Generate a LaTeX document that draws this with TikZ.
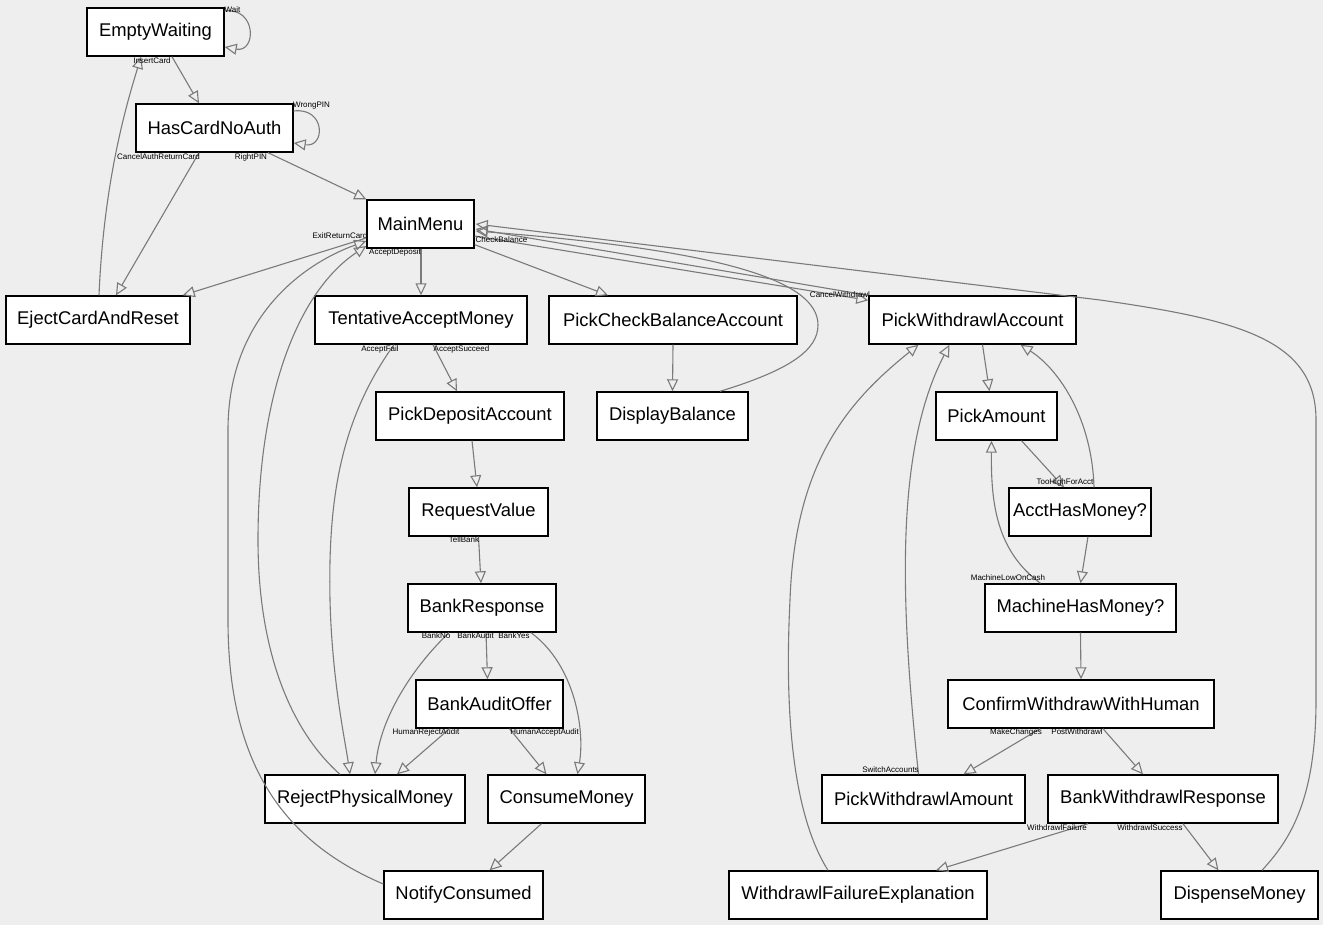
\documentclass[tikz,border=0pt]{standalone}
\usepackage{fontspec}
\setmainfont{Liberation Sans}
\usetikzlibrary{arrows.meta,calc}
\definecolor{bgcol}{HTML}{EEEEEE}
\definecolor{edgecol}{HTML}{7A7A7A}
\begin{document}
\begin{tikzpicture}[x=0.5pt,y=-0.5pt,
    state/.style={draw=black, fill=white, line width=0.7pt, inner sep=0pt, minimum height=24pt, font=\fontsize{9.2}{11}\selectfont},
    tr/.style={draw=edgecol, line width=0.55pt, -{Triangle[open,length=6pt,width=5.5pt]}},
    lbl/.style={inner sep=0pt, font=\fontsize{4}{4.5}\selectfont}]
    \fill[bgcol] (0,0) rectangle (1323,925);
    \useasboundingbox (0,0) rectangle (1323,925);
    \node[state, minimum width=68.5pt] (EmptyWaiting) at (155.5,32) {EmptyWaiting};
    \node[state, minimum width=78.5pt] (HasCardNoAuth) at (214.5,128) {HasCardNoAuth};
    \node[state, minimum width=53.5pt] (MainMenu) at (420.5,224) {MainMenu};
    \node[state, minimum width=92pt] (EjectCardAndReset) at (98,320) {EjectCardAndReset};
    \node[state, minimum width=106pt] (TentativeAcceptMoney) at (421,320) {TentativeAcceptMoney};
    \node[state, minimum width=124pt] (PickCheckBalanceAccount) at (673,320) {PickCheckBalanceAccount};
    \node[state, minimum width=103.5pt] (PickWithdrawlAccount) at (972.5,320) {PickWithdrawlAccount};
    \node[state, minimum width=94pt] (PickDepositAccount) at (470,416) {PickDepositAccount};
    \node[state, minimum width=75.5pt] (DisplayBalance) at (672.5,416) {DisplayBalance};
    \node[state, minimum width=60.5pt] (PickAmount) at (996.5,416) {PickAmount};
    \node[state, minimum width=69.5pt] (RequestValue) at (478.5,512) {RequestValue};
    \node[state, minimum width=71pt] (AcctHasMoney) at (1080,512) {AcctHasMoney?};
    \node[state, minimum width=74pt] (BankResponse) at (482,608) {BankResponse};
    \node[state, minimum width=95.5pt] (MachineHasMoney) at (1080.5,608) {MachineHasMoney?};
    \node[state, minimum width=73.5pt] (BankAuditOffer) at (489.5,704) {BankAuditOffer};
    \node[state, minimum width=133pt] (ConfirmWithdrawWithHuman) at (1081,704) {ConfirmWithdrawWithHuman};
    \node[state, minimum width=100pt] (RejectPhysicalMoney) at (365,799) {RejectPhysicalMoney};
    \node[state, minimum width=78.5pt] (ConsumeMoney) at (566.5,799) {ConsumeMoney};
    \node[state, minimum width=101.5pt] (PickWithdrawlAmount) at (923.5,799) {PickWithdrawlAmount};
    \node[state, minimum width=115pt] (BankWithdrawlResponse) at (1163,799) {BankWithdrawlResponse};
    \node[state, minimum width=79.5pt] (NotifyConsumed) at (463.5,895) {NotifyConsumed};
    \node[state, minimum width=129pt] (WithdrawlFailureExplanation) at (858,895) {WithdrawlFailureExplanation};
    \node[state, minimum width=78.5pt] (DispenseMoney) at (1239.5,895) {DispenseMoney};

    \draw[tr] ($(EmptyWaiting.east)+(0,-21)$) .. controls +(32,-4) and +(32,6) .. ($(EmptyWaiting.east)+(0,15)$);
    \draw[tr] ($(EmptyWaiting.south)+(16.5,0)$) -- ($(HasCardNoAuth.north)+(-15.5,0)$);
    \draw[tr] ($(HasCardNoAuth.east)+(0,-17)$) .. controls +(32,-4) and +(32,5) .. ($(HasCardNoAuth.east)+(0,15)$);
    \draw[tr] ($(HasCardNoAuth.south)+(53.5,0)$) -- (MainMenu.north west);
    \draw[tr] ($(HasCardNoAuth.south)+(-15.5,0)$) -- ($(EjectCardAndReset.north)+(18,0)$);
    \draw[tr] ($(EjectCardAndReset.north)+(1,0)$) .. controls +(5,-120) and +(-12,40) .. ($(EmptyWaiting.south)+(-14.5,0)$);
    \draw[tr] ($(MainMenu.west)+(0,14)$) -- ($(EjectCardAndReset.north east)+(-8,0)$);
    \draw[tr] ($(MainMenu.south)+(0.5,0)$) -- (TentativeAcceptMoney.north);
    \draw[tr] ($(MainMenu.south east)+(0,-4)$) -- ($(PickCheckBalanceAccount.north)+(-65,0)$);
    \draw[tr] ($(MainMenu.east)+(0,12)$) -- ($(PickWithdrawlAccount.north west)+(0,5)$);
    \draw[tr] (PickWithdrawlAccount.north west) -- ($(MainMenu.east)+(1,5)$);
    \draw[tr] ($(DisplayBalance.north)+(47.5,0)$) .. controls (790,370) and (818,350) .. (818,325) .. controls (818,280) and (720,250) .. ($(MainMenu.east)+(1,7)$);
    \draw[tr] ($(DispenseMoney.north)+(22.5,0)$) .. controls (1290,840) and (1316,800) .. (1316,700) -- (1316,420) .. controls (1316,340) and (1240,320) .. (1100,300) -- ($(MainMenu.east)+(1,0)$);
    \draw[tr] ($(NotifyConsumed.west)+(0,-11)$) .. controls (280,840) and (228,760) .. (228,620) -- (228,430) .. controls (228,320) and (300,265) .. ($(MainMenu.west)+(0,17)$);
    \draw[tr] ($(RejectPhysicalMoney.north)+(-25,0)$) .. controls (290,730) and (258,650) .. (258,540) .. controls (258,390) and (300,290) .. ($(MainMenu.west)+(0,22)$);
    \draw[tr] ($(TentativeAcceptMoney.south)+(-27,0)$) .. controls (340,420) and (328,500) .. (330,600) .. controls (332,680) and (345,740) .. ($(RejectPhysicalMoney.north)+(-15,0)$);
    \draw[tr] ($(TentativeAcceptMoney.south)+(12,0)$) -- ($(PickDepositAccount.north)+(-13,0)$);
    \draw[tr] ($(PickDepositAccount.south)+(2,0)$) -- ($(RequestValue.north)+(-1.5,0)$);
    \draw[tr] (RequestValue.south) -- ($(BankResponse.north)+(-1,0)$);
    \draw[tr] ($(BankResponse.south)+(-33,0)$) .. controls (410,670) and (380,720) .. ($(RejectPhysicalMoney.north)+(10,0)$);
    \draw[tr] ($(BankResponse.south)+(4,0)$) -- ($(BankAuditOffer.north)+(-2,0)$);
    \draw[tr] ($(BankResponse.south)+(49,0)$) .. controls (575,665) and (585,730) .. ($(ConsumeMoney.north)+(11,0)$);
    \draw[tr] ($(BankAuditOffer.south)+(-40,0)$) -- ($(RejectPhysicalMoney.north)+(32,0)$);
    \draw[tr] ($(BankAuditOffer.south)+(20,0)$) -- ($(ConsumeMoney.north)+(-20,0)$);
    \draw[tr] ($(ConsumeMoney.south)+(-25,0)$) -- ($(NotifyConsumed.north)+(26,0)$);
    \draw[tr] (PickCheckBalanceAccount.south) -- (DisplayBalance.north);
    \draw[tr] ($(PickWithdrawlAccount.south)+(10,0)$) -- ($(PickAmount.north)+(-7,0)$);
    \draw[tr] ($(PickAmount.south)+(25,0)$) -- ($(AcctHasMoney.north)+(-16,0)$);
    \draw[tr] ($(AcctHasMoney.north)+(14,0)$) .. controls (1092,420) and (1060,370) .. ($(PickWithdrawlAccount.south)+(48,0)$);
    \draw[tr] ($(AcctHasMoney.south)+(8,0)$) -- (MachineHasMoney.north);
    \draw[tr] ($(MachineHasMoney.north)+(-40,0)$) .. controls (995,550) and (991,500) .. ($(PickAmount.south)+(-5,0)$);
    \draw[tr] (MachineHasMoney.south) -- (ConfirmWithdrawWithHuman.north);
    \draw[tr] ($(ConfirmWithdrawWithHuman.south)+(-41,0)$) -- ($(PickWithdrawlAmount.north)+(40,0)$);
    \draw[tr] ($(ConfirmWithdrawWithHuman.south)+(22,0)$) -- ($(BankWithdrawlResponse.north)+(-20,0)$);
    \draw[tr] ($(PickWithdrawlAmount.north)+(-5,0)$) .. controls (900,600) and (895,450) .. ($(PickWithdrawlAccount.south)+(-23,0)$);
    \draw[tr] ($(BankWithdrawlResponse.south)+(-75,0)$) -- ($(WithdrawlFailureExplanation.north)+(78,0)$);
    \draw[tr] ($(BankWithdrawlResponse.south)+(20,0)$) -- ($(DispenseMoney.north)+(-21,0)$);
    \draw[tr] ($(WithdrawlFailureExplanation.north)+(-30,0)$) .. controls (790,810) and (785,700) .. (790,600) .. controls (795,460) and (850,400) .. ($(PickWithdrawlAccount.south)+(-54,0)$);

    \node[lbl] (lWait) at (232.5,10) {Wait};
    \node[lbl] (lInsertCard) at (152,61) {InsertCard};
    \node[lbl] (lWrongPIN) at (311.5,106) {WrongPIN};
    \node[lbl] (lCancelAuth) at (158.5,157) {CancelAuthReturnCard};
    \node[lbl] (lRightPIN) at (251,157) {RightPIN};
    \node[lbl] (lExit) at (340,235.5) {ExitReturnCard};
    \node[lbl] (lAcceptDeposit) at (395,252) {AcceptDeposit};
    \node[lbl] (lCheckBalance) at (501.5,239.5) {CheckBalance};
    \node[lbl] (lCancelWithdrawl) at (840,294.5) {CancelWithdrawl};
    \node[lbl] (lAcceptFail) at (380,349) {AcceptFail};
    \node[lbl] (lAcceptSucceed) at (461.5,349) {AcceptSucceed};
    \node[lbl] (lTellBank) at (464,540) {TellBank};
    \node[lbl] (lBankNo) at (436,636) {BankNo};
    \node[lbl] (lBankAudit) at (475.5,636) {BankAudit};
    \node[lbl] (lBankYes) at (514,636) {BankYes};
    \node[lbl] (lHumanReject) at (426,732) {HumanRejectAudit};
    \node[lbl] (lHumanAccept) at (544.5,732) {HumanAcceptAudit};
    \node[lbl] (lTooHigh) at (1065,482) {TooHighForAcct};
    \node[lbl] (lLowOnCash) at (1008,578) {MachineLowOnCash};
    \node[lbl] (lMakeChanges) at (1016,732) {MakeChanges};
    \node[lbl] (lPostWithdrawl) at (1077,732) {PostWithdrawl};
    \node[lbl] (lSwitchAccounts) at (890.5,770) {SwitchAccounts};
    \node[lbl] (lFailure) at (1057,828) {WithdrawlFailure};
    \node[lbl] (lSuccess) at (1150,828) {WithdrawlSuccess};
\end{tikzpicture}
\end{document}
